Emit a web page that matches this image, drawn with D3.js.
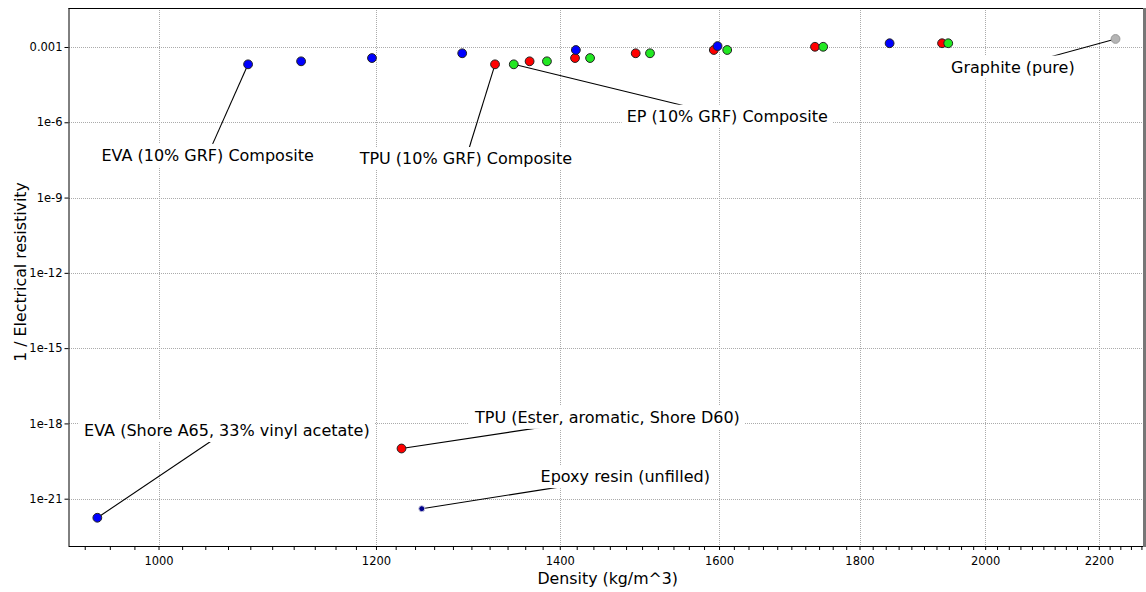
<!DOCTYPE html>
<html>
	<head>
		<script src="https://d3js.org/d3.v7.min.js"></script>
		<style>
			body { margin: 0; background: #fff; }
			text { font-family: "DejaVu Sans", sans-serif; }
		</style>
	</head>
	<body>
		<script>
			// density (kg/m^3) and 1/electrical resistivity
			var eva_density = [1078, 1127, 1196, 1290, 1419, 1598, 1846];
			var eva_cond = [2.04e-4, 2.69e-4, 3.63e-4, 5.62e-4, 7.59e-4, 1.09e-3, 1.41e-3];
			var tpu_density = [1326, 1365, 1418, 1492, 1593, 1734, 1929];
			var tpu_cond = [2.04e-4, 2.69e-4, 3.63e-4, 5.62e-4, 7.59e-4, 1.02e-3, 1.41e-3];
			var ep_density = [1347, 1385, 1436, 1510, 1611, 1746, 1939];
			var ep_cond = [2.04e-4, 2.69e-4, 3.63e-4, 5.62e-4, 7.59e-4, 1.02e-3, 1.41e-3];

			var single_names = ["Graphite (pure)", "EVA (Shore A65, 33% vinyl acetate)", "TPU (Ester, aromatic, Shore D60)", "Epoxy resin (unfilled)"];
			var single_density = [2231, 950, 1226, 1247];
			var single_cond = [2.09e-3, 1.74e-22, 1.0e-19, 4.0e-22];

			// annotation labels: the point they point at and the label centre, both in data units
			var label_text = ["EVA (10% GRF) Composite", "TPU (10% GRF) Composite", "EP (10% GRF) Composite",
				"Graphite (pure)", "EVA (Shore A65, 33% vinyl acetate)", "TPU (Ester, aromatic, Shore D60)", "Epoxy resin (unfilled)"];
			var label_px = [1078, 1326, 1347, 2231, 950, 1226, 1247];
			var label_py = [2.04e-4, 2.04e-4, 2.04e-4, 2.09e-3, 1.74e-22, 1.0e-19, 4.0e-22];
			var label_lx = [1042, 1294, 1611, 2047, 1059, 1457, 1479];
			var label_ly = [4.8e-8, 3.6e-8, 1.74e-6, 1.58e-4, 5.2e-19, 1.74e-18, 7.6e-21];

			var x_ticks = [1000, 1200, 1400, 1600, 1800, 2000, 2200];
			var y_ticks = [1e-3, 1e-6, 1e-9, 1e-12, 1e-15, 1e-18, 1e-21];
			var y_tick_labels = ["0.001", "1e-6", "1e-9", "1e-12", "1e-15", "1e-18", "1e-21"];

			var width = 1146, height = 592;
			var m_left = 68.5, m_right = 1143, m_top = 8, m_bottom = 546;

			var svg = d3.select('body').append('svg')
				.attr('width', width)
				.attr('height', height);

			var x = d3.scaleLog().domain([927.3, 2283]).range([m_left, m_right]);
			var y = d3.scaleLog().domain([Math.pow(10, -22.885), Math.pow(10, -1.446)]).range([m_bottom, m_top]);

			// grid (dotted)
			svg.append('g').selectAll('line')
				.data(x_ticks).enter().append('line')
				.attr('x1', function (d) { return Math.round(x(d)) + 0.5; })
				.attr('x2', function (d) { return Math.round(x(d)) + 0.5; })
				.attr('y1', m_top).attr('y2', m_bottom)
				.attr('stroke', '#ababab').attr('stroke-dasharray', '1,1')
				.attr('shape-rendering', 'crispEdges');
			svg.append('g').selectAll('line')
				.data(y_ticks).enter().append('line')
				.attr('y1', function (d) { return Math.round(y(d)) + 0.5; })
				.attr('y2', function (d) { return Math.round(y(d)) + 0.5; })
				.attr('x1', m_left).attr('x2', m_right)
				.attr('stroke', '#ababab').attr('stroke-dasharray', '1,1')
				.attr('shape-rendering', 'crispEdges');

			// x axis with minor ticks every 20
			var minor = d3.range(940, 2281, 20);
			var xAxis = d3.axisBottom(x).tickValues(minor).tickSize(4)
				.tickFormat(function (d) { return x_ticks.indexOf(d) >= 0 ? d : ''; });
			var gx = svg.append('g').attr('transform', 'translate(0,' + m_bottom + ')').call(xAxis);
			gx.select('.domain').attr('d', 'M' + m_left + ',0.5H' + m_right).attr('stroke', '#000');
			gx.selectAll('text').attr('font-size', 11.5).attr('dy', '1.05em').attr('fill', '#000')
				.style('font-family', '"DejaVu Sans", sans-serif');

			var yAxis = d3.axisLeft(y).tickValues(y_ticks).tickSize(4)
				.tickFormat(function (d, i) { return y_tick_labels[i]; });
			var gy = svg.append('g').attr('transform', 'translate(' + m_left + ',0)').call(yAxis);
			gy.select('.domain').attr('d', 'M0.5,' + m_top + 'V' + m_bottom).attr('stroke', '#000');
			gy.selectAll('text').attr('font-size', 11.5).attr('x', -6).attr('fill', '#000')
				.style('font-family', '"DejaVu Sans", sans-serif');

			// frame
			svg.append('line').attr('x1', m_left).attr('x2', m_right).attr('y1', m_top + 0.5).attr('y2', m_top + 0.5)
				.attr('stroke', '#000');
			svg.append('line').attr('x1', m_right + 1.5).attr('x2', m_right + 1.5).attr('y1', m_top).attr('y2', m_bottom + 1)
				.attr('stroke', '#777').attr('stroke-width', 3);

			// axis titles
			svg.append('text').attr('x', (m_left + m_right) / 2 + 2).attr('y', 584)
				.attr('text-anchor', 'middle').attr('font-size', 15.8).text('Density (kg/m^3)');
			svg.append('text').attr('transform', 'translate(20,' + 272 + ') rotate(-90)')
				.attr('text-anchor', 'middle').attr('dominant-baseline', 'central')
				.attr('font-size', 15.8).text('1 / Electrical resistivity');

			// leader lines
			var labels = label_text.map(function (t, i) {
				return { t: t, px: label_px[i], py: label_py[i], lx: label_lx[i], ly: label_ly[i] };
			});
			svg.append('g').selectAll('line').data(labels).enter().append('line')
				.attr('x1', function (d) { return x(d.px); })
				.attr('y1', function (d) { return y(d.py); })
				.attr('x2', function (d) { return x(d.lx); })
				.attr('y2', function (d) { return y(d.ly); })
				.attr('stroke', '#000').attr('stroke-width', 1.1);

			// label boxes
			var lg = svg.append('g').selectAll('g').data(labels).enter().append('g')
				.attr('transform', function (d) { return 'translate(' + x(d.lx) + ',' + y(d.ly) + ')'; });
			var lt = lg.append('text').attr('text-anchor', 'middle').attr('dominant-baseline', 'central')
				.attr('font-size', 16).text(function (d) { return d.t; });
			lg.each(function () {
				var g = d3.select(this);
				var b = g.select('text').node().getBBox();
				g.insert('rect', 'text')
					.attr('x', b.x - 5).attr('y', b.y - 2)
					.attr('width', b.width + 10).attr('height', b.height + 4)
					.attr('fill', '#fff');
			});

			// points
			function draw_series(dens, cond, fill, stroke, r) {
				svg.append('g').selectAll('circle')
					.data(dens).enter().append('circle')
					.attr('cx', function (d) { return x(d); })
					.attr('cy', function (d, i) { return y(cond[i]); })
					.attr('r', r)
					.attr('fill', fill).attr('stroke', stroke).attr('stroke-width', 1);
			}
			draw_series(tpu_density, tpu_cond, '#ff0000', '#222', 4.4);
			draw_series(ep_density, ep_cond, '#22e822', '#222', 4.4);
			draw_series(eva_density, eva_cond, '#0000ff', '#222', 4.4);
			draw_series([single_density[0]], [single_cond[0]], '#b4b4b4', '#999', 4.4);
			draw_series([single_density[1]], [single_cond[1]], '#0000ff', '#222', 4.4);
			draw_series([single_density[2]], [single_cond[2]], '#ff0000', '#222', 4.4);
			draw_series([single_density[3]], [single_cond[3]], '#00008b', '#ccd', 3);
		</script>
	</body>
</html>
